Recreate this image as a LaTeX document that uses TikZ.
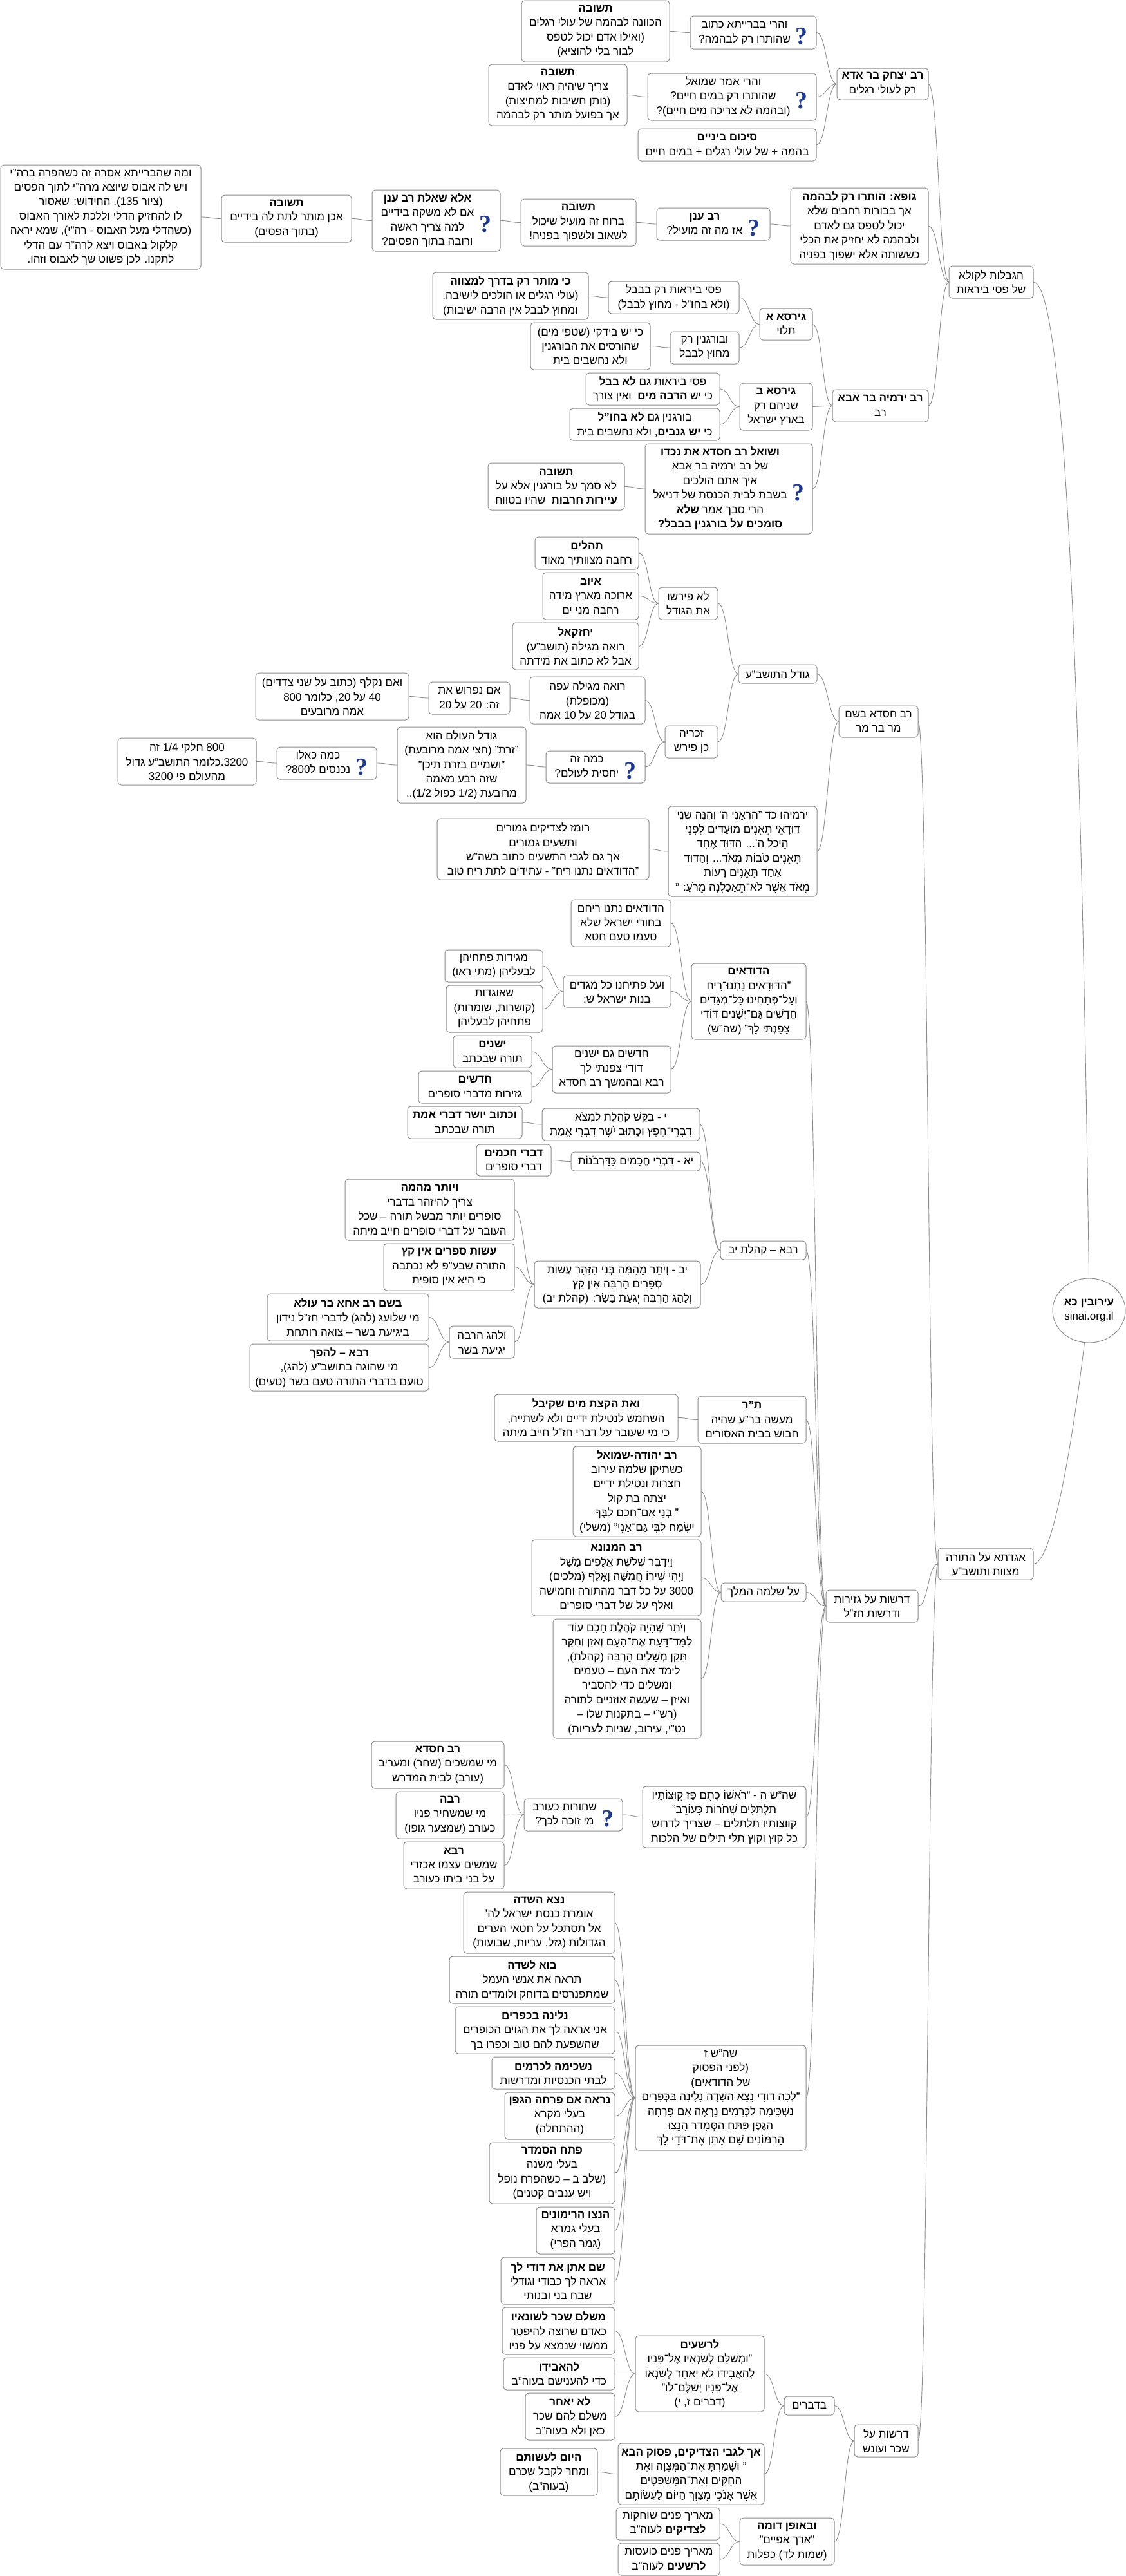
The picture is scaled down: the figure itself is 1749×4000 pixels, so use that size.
\documentclass[tikz,border=0pt]{standalone}
\usepackage{fontspec}
\setmainfont[Script=Hebrew]{Liberation Sans}
\newfontfamily\askfont{Liberation Serif}
\usetikzlibrary{shapes.geometric}
\TeXXeTstate=1
\definecolor{maplinecol}{HTML}{8C8C8C}
\definecolor{askcol}{HTML}{1F3A8C}
\newcommand\rl[1]{\beginR #1\endR}
\newcommand\hd[1]{\beginR\textbf{#1}\endR}
\newcommand\asked[1]{\begin{tabular}{@{}c@{}}#1\end{tabular}\hspace{4pt}\raisebox{-7pt}{\askfont\bfseries\fontsize{19}{19}\selectfont\color{askcol}?}}
\tikzset{
  map/box/.style n args={4}{draw=maplinecol, line width=0.5pt, rounded corners=2.5pt, inner sep=0pt, outer sep=0pt, align=center,
    font=\fontsize{8.5}{11.2}\selectfont, at={({(#1+#2)/2},{(#3+#4)/2})},
    minimum width={(#2-#1)*0.5pt}, minimum height={(#4-#3)*0.5pt}},
  map/root/.style n args={4}{map/box={#1}{#2}{#3}{#4}, ellipse, rounded corners=0pt},
  map/line/.style={draw=maplinecol, line width=0.45pt, to path={.. controls +(16,0) and +(-16,0) .. (\tikztotarget)}}
}
\begin{document}
\begin{tikzpicture}[x=0.5pt,y=-0.5pt]
  \useasboundingbox (0,0) rectangle (1749,4000);

  \node[map/root={1635}{1748}{1985}{2085}] (root) {\hd{עירובין כא}\\sinai.org.il};
  \node[map/box={1474}{1605}{413}{463}] (limits) {\rl{הגבלות לקולא}\\\rl{של פסי ביראות}};
  \node[map/box={1457}{1605}{2404}{2453}] (agadeta) {\rl{אגדתא על התורה}\\\rl{מצוות ותושב"ע}};

  % rav yitzchak
  \node[map/box={1300}{1442}{106}{155}] (yitzchak) {\hd{רב יצחק בר אדא}\\\rl{רק לעולי רגלים}};
  \node[map/box={1072}{1268}{25}{76}] (askbaraita) {\asked{\rl{והרי בברייתא כתוב}\\\rl{שהותרו רק לבהמה?}}};
  \node[map/box={810}{1040}{1}{96}] (ansbaraita) {\hd{תשובה}\\\rl{הכוונה לבהמה של עולי רגלים}\\\rl{(ואילו אדם יכול לטפס}\\\rl{לבור בלי להוציא)}};
  \node[map/box={1006}{1268}{114}{187}] (askshmuel) {\asked{\rl{והרי אמר שמואל}\\\rl{שהותרו רק במים חיים?}\\\rl{(ובהמה לא צריכה מים חיים)?}}};
  \node[map/box={759}{974}{100}{195}] (ansshmuel) {\hd{תשובה}\\\rl{צריך שיהיה ראוי לאדם}\\\rl{(נותן חשיבות למחיצות)}\\\rl{אך בפועל מותר רק לבהמה}};
  \node[map/box={991}{1268}{200}{250}] (sikum) {\hd{סיכום ביניים}\\\rl{בהמה + של עולי רגלים + במים חיים}};

  % gufa chain
  \node[map/box={1228}{1442}{292}{410}] (gufa) {\hd{גופא: הותרו רק לבהמה}\\\rl{אך בבורות רחבים שלא}\\\rl{יכול לטפס גם לאדם}\\\rl{ולבהמה לא יחזיק את הכלי}\\\rl{כששותה אלא ישפוך בפניה}};
  \node[map/box={1020}{1196}{323}{373}] (anan) {\asked{\hd{רב ענן}\\\rl{אז מה זה מועיל?}}};
  \node[map/box={809}{988}{309}{382}] (ansanan) {\hd{תשובה}\\\rl{ברוח זה מועיל שיכול}\\\rl{לשאוב ולשפוך בפניה!}};
  \node[map/box={578}{777}{295}{390}] (askanan) {\asked{\hd{אלא שאלת רב ענן}\\\rl{אם לא משקה בידיים}\\\rl{למה צריך ראשה}\\\rl{ורובה בתוך הפסים?}}};
  \node[map/box={344}{546}{303}{376}] (ansyadayim) {\hd{תשובה}\\\rl{אכן מותר לתת לה בידיים}\\\rl{(בתוך הפסים)}};
  \node[map/box={1}{312}{256}{418}] (avus) {\rl{ומה שהברייתא אסרה זה כשהפרה ברה"י}\\\rl{ויש לה אבוס שיוצא מרה"י לתוך הפסים}\\\rl{(ציור 135), החידוש: שאסור}\\\rl{לו להחזיק הדלי וללכת לאורך האבוס}\\\rl{(כשהדלי מעל האבוס - רה"י), שמא יראה}\\\rl{קלקול באבוס ויצא לרה"ר עם הדלי}\\\rl{לתקנו. לכן פשוט שך לאבוס וזהו.}};

  % rav yirmeya
  \node[map/box={1293}{1442}{605}{655}] (yirmeya) {\hd{רב ירמיה בר אבא}\\\rl{רב}};
  \node[map/box={1180}{1262}{479}{528}] (girsaa) {\hd{גירסא א}\\\rl{תלוי}};
  \node[map/box={945}{1148}{437}{487}] (pasbavel) {\rl{פסי ביראות רק בבבל}\\\rl{(ולא בחו"ל - מחוץ לבבל)}};
  \node[map/box={672}{914}{423}{496}] (mitzva) {\hd{כי מותר רק בדרך למצווה}\\\rl{(עולי רגלים או הולכים לישיבה,}\\\rl{ומחוץ לבבל אין הרבה ישיבות)}};
  \node[map/box={1041}{1148}{515}{565}] (burgan) {\rl{ובורגנין רק}\\\rl{מחוץ לבבל}};
  \node[map/box={824}{1010}{501}{574}] (bidki) {\rl{כי יש בידקי (שטפי מים)}\\\rl{שהורסים את הבורגנין}\\\rl{ולא נחשבים בית}};
  \node[map/box={1149}{1262}{595}{668}] (girsab) {\hd{גירסא ב}\\\rl{שניהם רק}\\\rl{בארץ ישראל}};
  \node[map/box={910}{1118}{579}{629}] (pasgam) {\rl{פסי ביראות גם \textbf{לא בבל}}\\\rl{כי יש \textbf{הרבה מים}\ \ ואין צורך}};
  \node[map/box={885}{1118}{634}{684}] (burgam) {\rl{בורגנין גם \textbf{לא בחו"ל}}\\\rl{כי \textbf{יש גנבים}, ולא נחשבים בית}};
  \node[map/box={1002}{1262}{689}{829}] (shoel) {\asked{\hd{ושואל רב חסדא את נכדו}\\\rl{של רב ירמיה בר אבא}\\\rl{איך אתם הולכים}\\\rl{בשבת לבית הכנסת של דניאל}\\\rl{הרי סבך אמר \textbf{שלא}}\\\hd{סומכים על בורגנין בבבל?}}};
  \node[map/box={758}{970}{719}{792}] (ansshoel) {\hd{תשובה}\\\rl{לא סמך על בורגנין אלא על}\\\rl{\textbf{עיירות חרבות}\ \ שהיו בטווח}};

  % rav chisda: size of the tora
  \node[map/box={1303}{1426}{1096}{1145}] (chisda) {\rl{רב חסדא בשם}\\\rl{מר בר מר}};
  \node[map/box={1147}{1269}{1032}{1061}] (godel) {\rl{גודל התושב"ע}};
  \node[map/box={1023}{1115}{912}{962}] (pirshu) {\rl{לא פירשו}\\\rl{את הגודל}};
  \node[map/box={831}{992}{834}{884}] (tehilim) {\hd{תהלים}\\\rl{רחבה מצוותיך מאוד}};
  \node[map/box={843}{992}{889}{962}] (iyov) {\hd{איוב}\\\rl{ארוכה מארץ מידה}\\\rl{רחבה מני ים}};
  \node[map/box={796}{992}{967}{1040}] (yechezkel) {\hd{יחזקאל}\\\rl{רואה מגילה (תושב"ע)}\\\rl{אבל לא כתוב את מידתה}};
  \node[map/box={1033}{1115}{1127}{1177}] (zecharya) {\rl{זכריה}\\\rl{כן פירש}};
  \node[map/box={823}{1002}{1051}{1124}] (megila) {\rl{רואה מגילה עפה}\\\rl{(מכופלת)}\\\rl{בגודל 20 על 10 אמה}};
  \node[map/box={666}{792}{1059}{1109}] (nifros) {\rl{אם נפרוש את}\\\rl{זה: 20 על 20}};
  \node[map/box={397}{635}{1045}{1118}] (niklaf) {\rl{ואם נקלף (כתוב על שני צדדים)}\\\rl{40 על 20, כלומר 800}\\\rl{אמה מרובעים}};
  \node[map/box={848}{1002}{1166}{1216}] (kamaze) {\asked{\rl{כמה זה}\\\rl{יחסית לעולם?}}};
  \node[map/box={617}{817}{1129}{1247}] (olam) {\rl{גודל העולם הוא}\\\rl{"זרת" (חצי אמה מרובעת)}\\\rl{"ושמיים בזרת תיכן"}\\\rl{שזה רבע מאמה}\\\rl{מרובעת (1/2 כפול 1/2)..}};
  \node[map/box={430}{585}{1160}{1210}] (kaelu) {\asked{\rl{כמה כאלו}\\\rl{נכנסים ל800?}}};
  \node[map/box={183}{398}{1146}{1219}] (pi3200) {\rl{800 חלקי 1/4 זה}\\\rl{3200.כלומר התושב"ע גדול}\\\rl{מהעולם פי 3200}};
  \node[map/box={1038}{1269}{1252}{1392}] (teenim) {\rl{ירמיהו כד "הִרְאַנִי ה' וְהִנֵּה שְׁנֵי}\\\rl{דּוּדָאֵי תְאֵנִים מוּעָדִים לִפְנֵי}\\\rl{הֵיכַל ה'... הַדּוּד אֶחָד}\\\rl{תְּאֵנִים טֹבוֹת מְאֹד... וְהַדּוּד}\\\rl{אֶחָד תְּאֵנִים רָעוֹת}\\\rl{מְאֹד אֲשֶׁר לֹא־תֵאָכַלְנָה מֵרֹעַ: "}};
  \node[map/box={679}{1008}{1271}{1366}] (romez) {\rl{רומז לצדיקים גמורים}\\\rl{ותשעים גמורים}\\\rl{אך גם לגבי התשעים כתוב בשה"ש}\\\rl{"הדודאים נתנו ריח" - עתידים לתת ריח טוב}};

  % drashot
  \node[map/box={1283}{1426}{2469}{2519}] (drashot) {\rl{דרשות על גזירות}\\\rl{ודרשות חז"ל}};
  \node[map/box={1074}{1252}{1496}{1614}] (dudaim) {\hd{הדודאים}\\\rl{"הַדּוּדָאִים נָתְנוּ־רֵיחַ}\\\rl{וְעַל־פְּתָחֵינוּ כָּל־מְגָדִים}\\\rl{חֲדָשִׁים גַּם־יְשָׁנִים דּוֹדִי}\\\rl{צָפַנְתִּי לָךְ" (שה"ש)}};
  \node[map/box={887}{1042}{1397}{1470}] (natnu) {\rl{הדודאים נתנו ריחם}\\\rl{בחורי ישראל שלא}\\\rl{טעמו טעם חטא}};
  \node[map/box={875}{1042}{1515}{1564}] (migdim) {\rl{ועל פתיחנו כל מגדים}\\\rl{בנות ישראל ש:}};
  \node[map/box={691}{843}{1475}{1525}] (magidot) {\rl{מגידות פתחיהן}\\\rl{לבעליהן (מתי ראו)}};
  \node[map/box={693}{843}{1530}{1603}] (ogdot) {\rl{שאוגדות}\\\rl{(קושרות, שומרות)}\\\rl{פתחיהן לבעליהן}};
  \node[map/box={858}{1042}{1624}{1697}] (newold) {\rl{חדשים גם ישנים}\\\rl{דודי צפנתי לך}\\\rl{רבא ובהמשך רב חסדא}};
  \node[map/box={704}{826}{1608}{1658}] (yeshanim) {\hd{ישנים}\\\rl{תורה שבכתב}};
  \node[map/box={650}{826}{1663}{1713}] (chadashim) {\hd{חדשים}\\\rl{גזירות מדברי סופרים}};

  \node[map/box={1119}{1252}{1927}{1956}] (kohelet) {\rl{רבא – קהלת יב}};
  \node[map/box={842}{1087}{1721}{1771}] (pasuka) {\rl{י - בִּקֵּשׁ קֹהֶלֶת לִמְצֹא}\\\rl{דִּבְרֵי־חֵפֶץ וְכָתוּב יֹשֶׁר דִּבְרֵי אֱמֶת}};
  \node[map/box={633}{811}{1718}{1768}] (yosher) {\hd{וכתוב יושר דברי אמת}\\\rl{תורה שבכתב}};
  \node[map/box={887}{1088}{1789}{1818}] (pasukb) {\rl{יא - דִּבְרֵי חֲכָמִים כַּדָּרְבֹנוֹת}};
  \node[map/box={740}{856}{1777}{1826}] (chachamim) {\hd{דברי חכמים}\\\rl{דברי סופרים}};
  \node[map/box={830}{1088}{1958}{2031}] (pasukc) {\rl{יב - וְיֹתֵר מֵהֵמָּה בְּנִי הִזָּהֵר עֲשׂוֹת}\\\rl{סְפָרִים הַרְבֵּה אֵין קֵץ}\\\rl{וְלַהַג הַרְבֵּה יְגִעַת בָּשָׂר: (קהלת יב)}};
  \node[map/box={536}{799}{1831}{1926}] (mehema) {\hd{ויותר מהמה}\\\rl{צריך להיזהר בדברי}\\\rl{סופרים יותר מבשל תורה – שכל}\\\rl{העובר על דברי סופרים חייב מיתה}};
  \node[map/box={596}{799}{1931}{2004}] (sfarim) {\hd{עשות ספרים אין קץ}\\\rl{התורה שבע"פ לא נכתבה}\\\rl{כי היא אין סופית}};
  \node[map/box={698}{799}{2059}{2109}] (lahag) {\rl{ולהג הרבה}\\\rl{יגיעת בשר}};
  \node[map/box={415}{666}{2009}{2082}] (acha) {\hd{בשם רב אחא בר עולא}\\\rl{מי שלועג (להג) לדברי חז"ל נידון}\\\rl{ביגיעת בשר – צואה רותחת}};
  \node[map/box={388}{666}{2087}{2160}] (lehefach) {\hd{רבא – להפך}\\\rl{מי שהוגה בתושב"ע (להג),}\\\rl{טועם בדברי התורה טעם בשר (טעים)}};

  \node[map/box={1084}{1252}{2168}{2241}] (tanurabanan) {\hd{ת"ר}\\\rl{מעשה בר"ע שהיה}\\\rl{חבוש בבית האסורים}};
  \node[map/box={768}{1053}{2165}{2238}] (mayim) {\hd{ואת הקצת מים שקיבל}\\\rl{השתמש לנטילת ידיים ולא לשתייה,}\\\rl{כי מי שעובר על דברי חז"ל חייב מיתה}};
  \node[map/box={1120}{1252}{2458}{2487}] (shlomo) {\rl{על שלמה המלך}};
  \node[map/box={890}{1089}{2246}{2386}] (yehuda) {\hd{רב יהודה-שמואל}\\\rl{כשתיקן שלמה עירוב}\\\rl{חצרות ונטילת ידיים}\\\rl{יצתה בת קול}\\\rl{" בְּנִי אִם־חָכַם לִבֶּךָ}\\\rl{יִשְׂמַח לִבִּי גַם־אָנִי" (משלי)}};
  \node[map/box={826}{1089}{2391}{2509}] (hamnuna) {\hd{רב המנונא}\\\rl{וַיְדַבֵּר שְׁלֹשֶׁת אֲלָפִים מָשָׁל}\\\rl{וַיְהִי שִׁירוֹ חֲמִשָּׁה וָאָלֶף (מלכים)}\\\rl{3000 על כל דבר מהתורה וחמישה}\\\rl{ואלף על של דברי סופרים}};
  \node[map/box={859}{1089}{2514}{2699}] (izen) {\rl{וְיֹתֵר שֶׁהָיָה קֹהֶלֶת חָכָם עוֹד}\\\rl{לִמַּד־דַּעַת אֶת־הָעָם וְאִזֵּן וְחִקֵּר}\\\rl{תִּקֵּן מְשָׁלִים הַרְבֵּה (קהלת),}\\\rl{לימד את העם – טעמים}\\\rl{ומשלים כדי להסביר}\\\rl{ואיזן – שעשה אוזניים לתורה}\\\rl{(רש"י – בתקנות שלו –}\\\rl{נט"י, עירוב, שניות לעריות)}};

  \node[map/box={998}{1252}{2774}{2869}] (kvutzot) {\rl{שה"ש ה - "רֹאשׁוֹ כֶּתֶם פָּז קְוּצּוֹתָיו}\\\rl{תַּלְתַּלִּים שְׁחֹרוֹת כָּעוֹרֵב"}\\\rl{קווצותיו תלתלים – שצריך לדרוש}\\\rl{כל קוץ וקוץ תלי תילים של הלכות}};
  \node[map/box={814}{967}{2793}{2843}] (shchorot) {\asked{\rl{שחורות כעורב}\\\rl{מי זוכה לכך?}}};
  \node[map/box={577}{783}{2704}{2777}] (oravchisda) {\hd{רב חסדא}\\\rl{מי שמשכים (שחר) ומעריב}\\\rl{(עורב) לבית המדרש}};
  \node[map/box={615}{783}{2782}{2855}] (oravraba) {\hd{רבה}\\\rl{מי שמשחיר פניו}\\\rl{כעורב (שמצער גופו)}};
  \node[map/box={627}{783}{2860}{2933}] (oravrava) {\hd{רבא}\\\rl{שמשים עצמו אכזרי}\\\rl{על בני ביתו כעורב}};

  \node[map/box={987}{1252}{3176}{3339}] (lecha) {\rl{שה"ש ז}\\\rl{(לפני הפסוק}\\\rl{של הדודאים)}\\\rl{"לְכָה דוֹדִי נֵצֵא הַשָּׂדֶה נָלִינָה בַּכְּפָרִים}\\\rl{נַשְׁכִּימָה לַכְּרָמִים נִרְאֶה אִם פָּרְחָה}\\\rl{הַגֶּפֶן פִּתַּח הַסְּמָדַר הֵנֵצוּ}\\\rl{הָרִמּוֹנִים שָׁם אֶתֵּן אֶת־דֹּדַי לָךְ}};
  \node[map/box={720}{955}{2938}{3033}] (nasa) {\hd{נצא השדה}\\\rl{אומרת כנסת ישראל לה'}\\\rl{אל תסתכל על חטאי הערים}\\\rl{הגדולות (גזל, עריות, שבועות)}};
  \node[map/box={698}{955}{3038}{3111}] (bosade) {\hd{בוא לשדה}\\\rl{תראה את אנשי העמל}\\\rl{שמתפנרסים בדוחק ולומדים תורה}};
  \node[map/box={707}{955}{3116}{3189}] (nalina) {\hd{נלינה בכפרים}\\\rl{אני אראה לך את הגוים הכופרים}\\\rl{שהשפעת להם טוב וכפרו בך}};
  \node[map/box={764}{955}{3194}{3244}] (nashkima) {\hd{נשכימה לכרמים}\\\rl{לבתי הכנסיות ומדרשות}};
  \node[map/box={784}{955}{3249}{3322}] (gefen) {\hd{נראה אם פרחה הגפן}\\\rl{בעלי מקרא}\\\rl{(ההתחלה)}};
  \node[map/box={760}{955}{3327}{3422}] (smadar) {\hd{פתח הסמדר}\\\rl{בעלי משנה}\\\rl{(שלב ב – כשהפרח נופל}\\\rl{ויש ענבים קטנים)}};
  \node[map/box={833}{955}{3427}{3500}] (rimonim) {\hd{הנצו הרימונים}\\\rl{בעלי גמרא}\\\rl{(גמר הפרי)}};
  \node[map/box={778}{955}{3505}{3578}] (sham) {\hd{שם אתן את דודי לך}\\\rl{אראה לך כבודי וגודלי}\\\rl{שבח בני ובנותי}};

  % schar veonesh
  \node[map/box={1327}{1426}{3765}{3815}] (schar) {\rl{דרשות על}\\\rl{שכר ועונש}};
  \node[map/box={1218}{1296}{3721}{3750}] (bidvarim) {\rl{בדברים}};
  \node[map/box={987}{1187}{3627}{3745}] (rshaim) {\hd{לרשעים}\\\rl{"וּמְשַׁלֵּם לְשֹׂנְאָיו אֶל־פָּנָיו}\\\rl{לְהַאֲבִידוֹ לֹא יְאַחֵר לְשֹׂנְאוֹ}\\\rl{אֶל־פָּנָיו יְשַׁלֶּם־לוֹ"}\\\rl{(דברים ז, י)}};
  \node[map/box={780}{955}{3583}{3656}] (meshalem) {\hd{משלם שכר לשונאיו}\\\rl{כאדם שרוצה להיפטר}\\\rl{ממשוי שנמצא על פניו}};
  \node[map/box={782}{955}{3661}{3711}] (lehavido) {\hd{להאבידו}\\\rl{כדי להענישם בעוה"ב}};
  \node[map/box={816}{955}{3716}{3789}] (yeacher) {\hd{לא יאחר}\\\rl{משלם להם שכר}\\\rl{כאן ולא בעוה"ב}};
  \node[map/box={960}{1187}{3794}{3889}] (tzadikim) {\hd{אך לגבי הצדיקים, פסוק הבא}\\\rl{" וְשָׁמַרְתָּ אֶת־הַמִּצְוָה וְאֶת}\\\rl{הַחֻקִּים וְאֶת־הַמִּשְׁפָּטִים}\\\rl{אֲשֶׁר אָנֹכִי מְצַוְּךָ הַיּוֹם לַעֲשׂוֹתָם}};
  \node[map/box={777}{928}{3802}{3875}] (hayom) {\hd{היום לעשותם}\\\rl{ומחר לקבל שכרם}\\\rl{(בעוה"ב)}};
  \node[map/box={1149}{1296}{3910}{3983}] (dome) {\hd{ובאופן דומה}\\\rl{"ארך אפיים"}\\\rl{(שמות לד) כפלות}};
  \node[map/box={957}{1118}{3894}{3944}] (sochakot) {\rl{מאריך פנים שוחקות}\\\rl{\textbf{לצדיקים} לעוה"ב}};
  \node[map/box={960}{1118}{3949}{3999}] (koasot) {\rl{מאריך פנים כועסות}\\\rl{\textbf{לרשעים} לעוה"ב}};

  \draw[map/line] (limits.east) .. controls +(60,0) and +(-8,-600) .. (root.north);
  \draw[map/line] (agadeta.east) .. controls +(30,0) and +(-18,150) .. (root.262);
  \draw[map/line] (chisda.east) to (agadeta.west);
  \draw[map/line] (drashot.east) to (agadeta.west);
  \draw[map/line] (schar.east) to (agadeta.west);

  \draw[map/line] (yitzchak.east) to (limits.west);
  \draw[map/line] (gufa.east) to (limits.west);
  \draw[map/line] (yirmeya.east) to (limits.west);
  \draw[map/line] (askbaraita.east) to (yitzchak.west);
  \draw[map/line] (askshmuel.east) to (yitzchak.west);
  \draw[map/line] (sikum.east) to (yitzchak.west);
  \draw[map/line] (ansbaraita.east) to (askbaraita.west);
  \draw[map/line] (ansshmuel.east) to (askshmuel.west);
  \draw[map/line] (anan.east) to (gufa.west);
  \draw[map/line] (ansanan.east) to (anan.west);
  \draw[map/line] (askanan.east) to (ansanan.west);
  \draw[map/line] (ansyadayim.east) to (askanan.west);
  \draw[map/line] (avus.east) to (ansyadayim.west);

  \draw[map/line] (girsaa.east) to (yirmeya.west);
  \draw[map/line] (girsab.east) to (yirmeya.west);
  \draw[map/line] (shoel.east) to (yirmeya.west);
  \draw[map/line] (pasbavel.east) to (girsaa.west);
  \draw[map/line] (burgan.east) to (girsaa.west);
  \draw[map/line] (mitzva.east) to (pasbavel.west);
  \draw[map/line] (bidki.east) to (burgan.west);
  \draw[map/line] (pasgam.east) to (girsab.west);
  \draw[map/line] (burgam.east) to (girsab.west);
  \draw[map/line] (ansshoel.east) to (shoel.west);

  \draw[map/line] (godel.east) to (chisda.west);
  \draw[map/line] (teenim.east) to (chisda.west);
  \draw[map/line] (pirshu.east) to (godel.west);
  \draw[map/line] (zecharya.east) to (godel.west);
  \draw[map/line] (tehilim.east) to (pirshu.west);
  \draw[map/line] (iyov.east) to (pirshu.west);
  \draw[map/line] (yechezkel.east) to (pirshu.west);
  \draw[map/line] (megila.east) to (zecharya.west);
  \draw[map/line] (kamaze.east) to (zecharya.west);
  \draw[map/line] (nifros.east) to (megila.west);
  \draw[map/line] (niklaf.east) to (nifros.west);
  \draw[map/line] (olam.east) to (kamaze.west);
  \draw[map/line] (kaelu.east) to (olam.west);
  \draw[map/line] (pi3200.east) to (kaelu.west);
  \draw[map/line] (romez.east) to (teenim.west);

  \draw[map/line] (dudaim.east) to (drashot.west);
  \draw[map/line] (kohelet.east) to (drashot.west);
  \draw[map/line] (tanurabanan.east) to (drashot.west);
  \draw[map/line] (shlomo.east) to (drashot.west);
  \draw[map/line] (kvutzot.east) to (drashot.west);
  \draw[map/line] (lecha.east) to (drashot.west);
  \draw[map/line] (natnu.east) to (dudaim.west);
  \draw[map/line] (migdim.east) to (dudaim.west);
  \draw[map/line] (newold.east) to (dudaim.west);
  \draw[map/line] (magidot.east) to (migdim.west);
  \draw[map/line] (ogdot.east) to (migdim.west);
  \draw[map/line] (yeshanim.east) to (newold.west);
  \draw[map/line] (chadashim.east) to (newold.west);

  \draw[map/line] (pasuka.east) to (kohelet.west);
  \draw[map/line] (pasukb.east) to (kohelet.west);
  \draw[map/line] (pasukc.east) to (kohelet.west);
  \draw[map/line] (yosher.east) to (pasuka.west);
  \draw[map/line] (chachamim.east) to (pasukb.west);
  \draw[map/line] (mehema.east) to (pasukc.west);
  \draw[map/line] (sfarim.east) to (pasukc.west);
  \draw[map/line] (lahag.east) to (pasukc.west);
  \draw[map/line] (acha.east) to (lahag.west);
  \draw[map/line] (lehefach.east) to (lahag.west);

  \draw[map/line] (mayim.east) to (tanurabanan.west);
  \draw[map/line] (yehuda.east) to (shlomo.west);
  \draw[map/line] (hamnuna.east) to (shlomo.west);
  \draw[map/line] (izen.east) to (shlomo.west);

  \draw[map/line] (shchorot.east) to (kvutzot.west);
  \draw[map/line] (oravchisda.east) to (shchorot.west);
  \draw[map/line] (oravraba.east) to (shchorot.west);
  \draw[map/line] (oravrava.east) to (shchorot.west);

  \draw[map/line] (nasa.east) to (lecha.west);
  \draw[map/line] (bosade.east) to (lecha.west);
  \draw[map/line] (nalina.east) to (lecha.west);
  \draw[map/line] (nashkima.east) to (lecha.west);
  \draw[map/line] (gefen.east) to (lecha.west);
  \draw[map/line] (smadar.east) to (lecha.west);
  \draw[map/line] (rimonim.east) to (lecha.west);
  \draw[map/line] (sham.east) to (lecha.west);

  \draw[map/line] (bidvarim.east) to (schar.west);
  \draw[map/line] (dome.east) to (schar.west);
  \draw[map/line] (rshaim.east) to (bidvarim.west);
  \draw[map/line] (tzadikim.east) to (bidvarim.west);
  \draw[map/line] (meshalem.east) to (rshaim.west);
  \draw[map/line] (lehavido.east) to (rshaim.west);
  \draw[map/line] (yeacher.east) to (rshaim.west);
  \draw[map/line] (hayom.east) to (tzadikim.west);
  \draw[map/line] (sochakot.east) to (dome.west);
  \draw[map/line] (koasot.east) to (dome.west);
\end{tikzpicture}
\end{document}
